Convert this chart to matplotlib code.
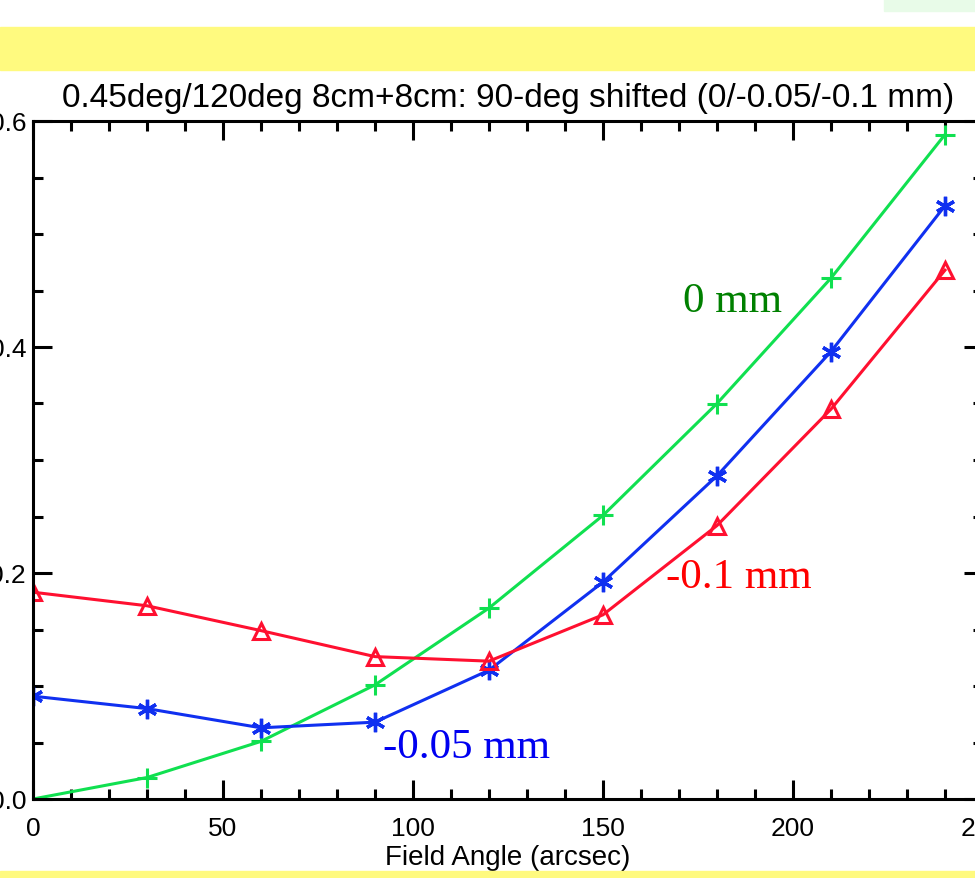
import matplotlib
matplotlib.use("Agg")
import matplotlib.pyplot as plt
from matplotlib.patches import Rectangle
from matplotlib.ticker import MultipleLocator

# field angle (arcsec)
angle = [0, 30, 60, 90, 120, 150, 180, 210, 240]

# values for the three shifts
shift_0 = [0.000, 0.019, 0.051, 0.101, 0.169, 0.251, 0.350, 0.461, 0.588]
shift_005 = [0.091, 0.080, 0.063, 0.068, 0.114, 0.192, 0.286, 0.396, 0.525]
shift_01 = [0.183, 0.171, 0.149, 0.126, 0.122, 0.163, 0.242, 0.345, 0.468]

title = "0.45deg/120deg 8cm+8cm: 90-deg shifted (0/-0.05/-0.1 mm)"

W, H = 975, 879
fig = plt.figure(figsize=(W / 100, H / 100), dpi=100)

# slide decorations
fig.patches.append(Rectangle((0, 1 - 71 / H), 1, 43 / H, transform=fig.transFigure,
                             color="#fffa7f", zorder=0))
fig.patches.append(Rectangle((0, 0), 1, 7 / H, transform=fig.transFigure,
                             color="#fffa7f", zorder=0))
fig.patches.append(Rectangle((884 / W, 1 - 12 / H), 91 / W, 12 / H, transform=fig.transFigure,
                             color="#e8fbe8", zorder=0))

ax = fig.add_axes([33 / W, 79 / H, 950 / W, 678 / H])
ax.patch.set_alpha(0)

lw = 2.2
ax.plot(angle, shift_0, color="#10e050", lw=lw, marker="+", ms=14, mew=2.2)
ax.plot(angle, shift_005, color="#1030f0", lw=lw, marker=(6, 2, 0), ms=14, mew=2.4)
ax.plot(angle, shift_01, color="#ff1030", lw=lw, marker="^", ms=12, mew=2.2,
        mfc="none")

ax.set_xlim(0, 250)
ax.set_ylim(0, 0.6)
ax.xaxis.set_major_locator(MultipleLocator(50))
ax.xaxis.set_minor_locator(MultipleLocator(10))
ax.yaxis.set_major_locator(MultipleLocator(0.2))
ax.yaxis.set_minor_locator(MultipleLocator(0.05))
ax.yaxis.set_major_formatter(plt.FormatStrFormatter("%.1f"))

for s in ax.spines.values():
    s.set_linewidth(2.2)
ax.tick_params(which="both", direction="in", top=True, right=True,
               width=2.2, labelsize=19)
ax.tick_params(which="major", length=14)
ax.tick_params(which="minor", length=7)
ax.tick_params(axis="x", pad=12)
ax.tick_params(axis="y", pad=5)

for lab in ax.get_xticklabels() + ax.get_yticklabels():
    lab.set_family("Liberation Sans")

ax.set_xlabel("Field Angle (arcsec)", fontsize=20, family="Liberation Sans", labelpad=3)
ax.set_title(title, fontsize=24, family="Liberation Sans", pad=11)

ax.text(171, 0.441, "0 mm", color="#008000", fontsize=31, family="Liberation Serif",
        va="center")
ax.text(166.5, 0.197, "-0.1 mm", color="#ff0000", fontsize=31, family="Liberation Serif",
        va="center")
ax.text(92, 0.046, "-0.05 mm", color="#0000f0", fontsize=31, family="Liberation Serif",
        va="center")

fig.savefig("out.png", dpi=100)
